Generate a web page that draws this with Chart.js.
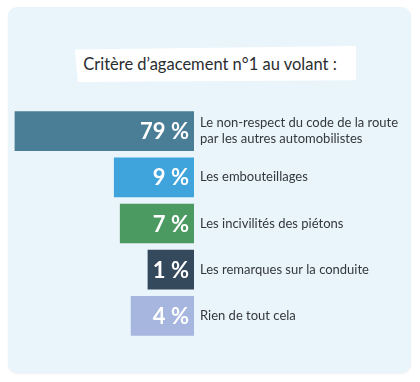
<!DOCTYPE html>
<html lang="fr">
<head>
<meta charset="utf-8">
<script src="https://cdn.jsdelivr.net/npm/chart.js@4/dist/chart.umd.min.js"></script>
<style>
  html, body { margin: 0; padding: 0; background: #fff; }
  #wrap { position: relative; width: 420px; height: 382px; overflow: hidden; font-family: Lato, "Noto Sans", sans-serif; }
  #card { position: absolute; left: 8px; top: 7px; width: 403px; height: 366px; background: #eaf5fb; border-radius: 9px;
    box-shadow: 0 1px 2px rgba(0, 0, 0, 0.06); }
  #banner { position: absolute; left: 75px; top: 46px; width: 281px; height: 36px; background: #fff;
    clip-path: polygon(0 10%, 100% 0, 100% 95%, 1% 100%); }
  #title { position: absolute; left: 0; width: 420px; top: 54px; text-align: center; font-size: 16.5px; color: #2a2d30; }
  canvas { position: absolute; left: 0; top: 0; }
</style>
</head>
<body>
<div id="wrap">
  <div id="card"></div>
  <div id="banner"></div>
  <div id="title">Critère d’agacement n°1 au volant :</div>
  <canvas id="chart1" width="420" height="382"></canvas>
</div>
<script>
const categories = [
    ['Le non-respect du code de la route', 'par les autres automobilistes'],
    'Les embouteillages',
    'Les incivilités des piétons',
    'Les remarques sur la conduite',
    'Rien de tout cela'
];
const percents = [79, 9, 7, 1, 4];
const barColors = ['#4a7d96', '#3fa3dc', '#4b9a62', '#34495c', '#a6b6de'];

// Square-root axis: the infographic's bars grow with the root of the value
class RootScale extends Chart.LinearScale {
    static id = 'root';
    static defaults = Chart.LinearScale.defaults;
    getPixelForValue(value) {
        const f = v => Math.sign(v) * Math.sqrt(Math.abs(v));
        const lo = f(this.min), hi = f(this.max);
        return this.getPixelForDecimal((f(value) - lo) / (hi - lo));
    }
    getValueForPixel(pixel) {
        const f = v => Math.sign(v) * Math.sqrt(Math.abs(v));
        const lo = f(this.min), hi = f(this.max);
        const r = lo + this.getDecimalForPixel(pixel) * (hi - lo);
        return Math.sign(r) * r * r;
    }
}
Chart.register(RootScale);

// Percent values written in white inside each bar, right aligned
const valueLabels = {
    id: 'valueLabels',
    afterDatasetsDraw(chart) {
        const ctx = chart.ctx;
        const meta = chart.getDatasetMeta(0);
        ctx.save();
        ctx.fillStyle = '#ffffff';
        ctx.font = 'bold 22px Lato, "Noto Sans", sans-serif';
        ctx.textAlign = 'right';
        ctx.textBaseline = 'middle';
        meta.data.forEach((bar, i) => {
            ctx.fillText(percents[i] + ' %', bar.base - 5, bar.y + 1);
        });
        ctx.restore();
    }
};

const ctx1 = document.getElementById('chart1').getContext('2d');
new Chart(ctx1, {
    type: 'bar',
    data: {
        labels: categories,
        datasets: [{
            data: percents,
            base: -3,
            backgroundColor: barColors,
            borderWidth: 0,
            barThickness: 39
        }]
    },
    options: {
        indexAxis: 'y',
        responsive: false,
        animation: false,
        layout: { padding: { left: 14, top: 108, bottom: 43, right: 0 } },
        plugins: { legend: { display: false }, tooltip: { enabled: false } },
        scales: {
            x: {
                type: 'root',
                reverse: true,
                min: -3,
                max: 80,
                display: false
            },
            y: {
                position: 'right',
                grid: { display: false, drawTicks: false },
                border: { display: false },
                afterFit(scale) { scale.width = 226; },
                ticks: {
                    padding: 6,
                    color: '#33383c',
                    font: { family: 'Lato, "Noto Sans", sans-serif', size: 13 }
                }
            }
        }
    },
    plugins: [valueLabels]
});
</script>
</body>
</html>
